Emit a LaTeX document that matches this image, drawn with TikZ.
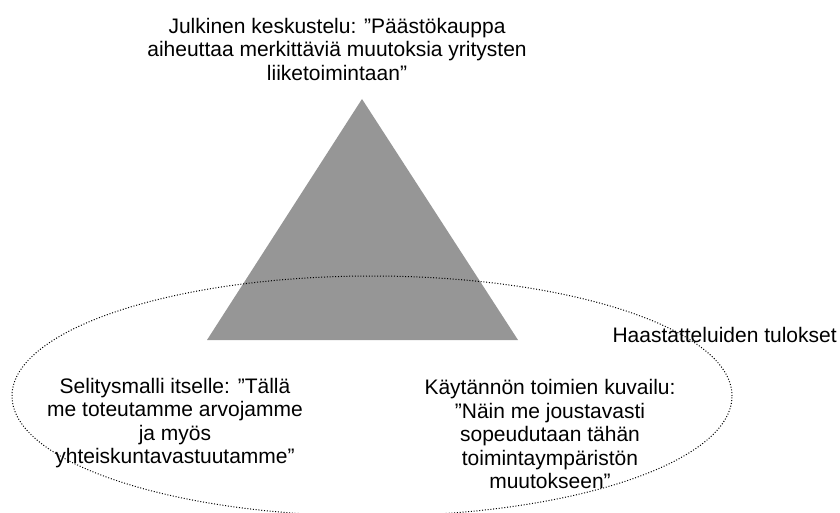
\documentclass[tikz,border=0pt]{standalone}
\usepackage{fontspec}
\setmainfont{Liberation Sans}
\definecolor{pyramidgray}{RGB}{150,150,150}

\begin{document}
\begin{tikzpicture}[x=1pt,y=-1pt,font=\fontsize{21}{23.5}\selectfont]

\useasboundingbox (0,0) rectangle (840,513);

\begin{scope}
\coordinate (apex) at (362,99);
\path (apex) -- +(-155,241) coordinate (bl);
\path (bl) -- +(311,0) coordinate (br);
\coordinate (mid) at (372,396);

\fill[pyramidgray] (apex) -- (br) -- (bl) -- cycle;

\draw[line width=1pt,dash pattern=on 1pt off 1.8pt] (mid) ellipse [x radius=360pt, y radius=120pt];

\node[align=center] (julkinen) at (337,49) {Julkinen keskustelu: ”Päästökauppa\\aiheuttaa merkittäviä muutoksia yritysten\\liiketoimintaan”};
\node[align=center] (selitys) at (175,423) {Selitysmalli itselle: ”Tällä\\me toteutamme arvojamme\\ja myös\\yhteiskuntavastuutamme”};
\node[align=center] (kaytanto) at (550,434) {Käytännön toimien kuvailu:\\”Näin me joustavasti\\sopeudutaan tähän\\toimintaympäristön\\muutokseen”};
\node[anchor=west] (tulokset) at (609,335) {Haastatteluiden tulokset};

\end{scope}

\end{tikzpicture}
\end{document}
